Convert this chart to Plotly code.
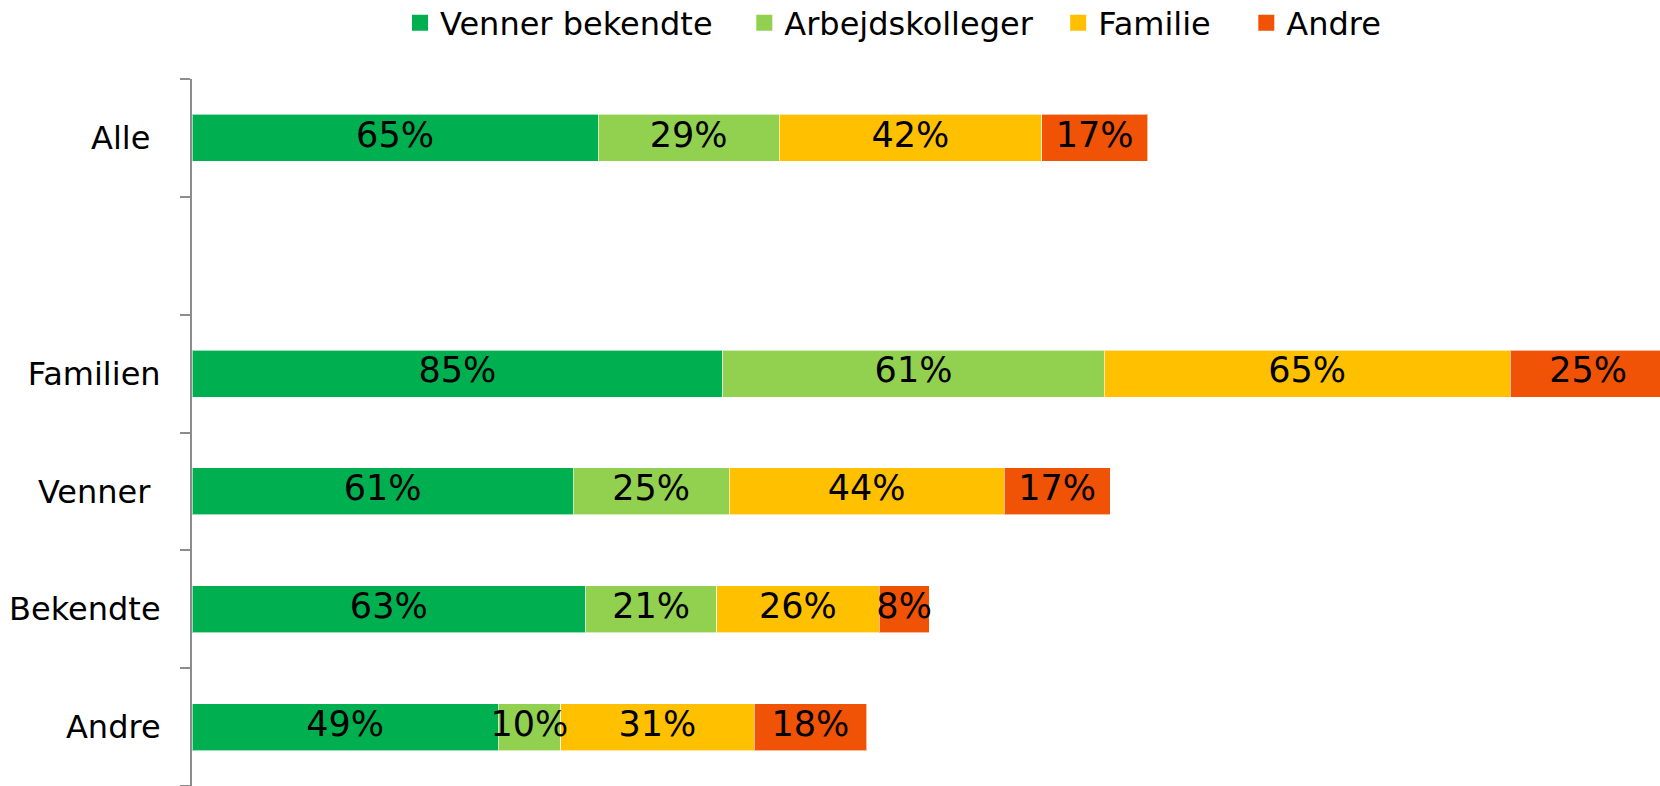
import plotly.graph_objects as go

categories = ["Alle", " ", "Familien", "Venner", "Bekendte", "Andre"]
bar_categories = ["Alle", "Familien", "Venner", "Bekendte", "Andre"]
series_names = ["Venner bekendte", "Arbejdskolleger", "Familie", "Andre"]
venner_bekendte = [65, 85, 61, 63, 49]
arbejdskolleger = [29, 61, 25, 21, 10]
familie = [42, 65, 44, 26, 31]
andre = [17, 25, 17, 8, 18]
colors = ["#00B050", "#92D050", "#FFC000", "#F05206"]
tick_labels = ["Alle ", " ", "Familien", "Venner ", "Bekendte", "Andre"]

series = [venner_bekendte, arbejdskolleger, familie, andre]
FONT = "DejaVu Sans"
# trailing spacing after each legend label
legend_pad = ["\u00a0\u00a0\u2009", "\u00a0\u00a0", "\u00a0\u00a0\u00a0", ""]

fig = go.Figure()
for name, vals, col in zip(series_names, series, colors):
    fig.add_trace(go.Bar(
        name=name, y=bar_categories, x=vals, orientation="h",
        marker=dict(color=col, line=dict(color="rgba(255,255,255,0.6)", width=1)),
        textposition="none", hoverinfo="x+y", showlegend=False,
    ))

# legend entries (square swatches)
for name, col, pad in zip(series_names, colors, legend_pad):
    fig.add_trace(go.Scatter(
        x=[None], y=[None], mode="markers", name=name + pad,
        marker=dict(symbol="square", size=16, color=col),
        showlegend=True, hoverinfo="skip",
    ))

# labels centered on each segment
cum = [0] * len(bar_categories)
for vals in series:
    mids = [c + v / 2 for c, v in zip(cum, vals)]
    fig.add_trace(go.Scatter(
        x=mids, y=bar_categories, mode="text",
        text=[f"{v}%" for v in vals],
        textfont=dict(family=FONT, size=35, color="black"),
        showlegend=False, hoverinfo="skip", cliponaxis=False,
    ))
    cum = [c + v for c, v in zip(cum, vals)]

fig.update_layout(
    width=1660, height=786,
    barmode="stack", bargap=0.6,
    plot_bgcolor="white", paper_bgcolor="white",
    margin=dict(l=192, r=0, t=79, b=0, autoexpand=False),
    font=dict(family=FONT, size=32, color="black"),
    legend=dict(
        orientation="h", traceorder="normal",
        x=400 / 1660, xref="container", xanchor="left",
        y=1 - 23 / 786, yref="container", yanchor="middle",
        font=dict(family=FONT, size=32, color="black"),
        itemsizing="trace",
    ),
    xaxis=dict(visible=False, range=[0, 235], fixedrange=True, automargin=False),
    yaxis=dict(
        type="category", categoryorder="array", categoryarray=categories,
        tickvals=categories, ticktext=tick_labels,
        autorange=False, range=[5.5, -0.5], automargin=False,
        showline=True, linecolor="#8c8c8c", linewidth=2,
        ticks="outside", tickson="boundaries", ticklen=10, tickcolor="#8c8c8c", tickwidth=2,
        ticklabelstandoff=23, showgrid=False, zeroline=False,
        tickfont=dict(family=FONT, size=32, color="black"),
    ),
)

fig.write_html(
    "out.html",
    config={"displayModeBar": False},
    post_script="document.body.style.margin='0';document.body.style.overflow='hidden';",
)
